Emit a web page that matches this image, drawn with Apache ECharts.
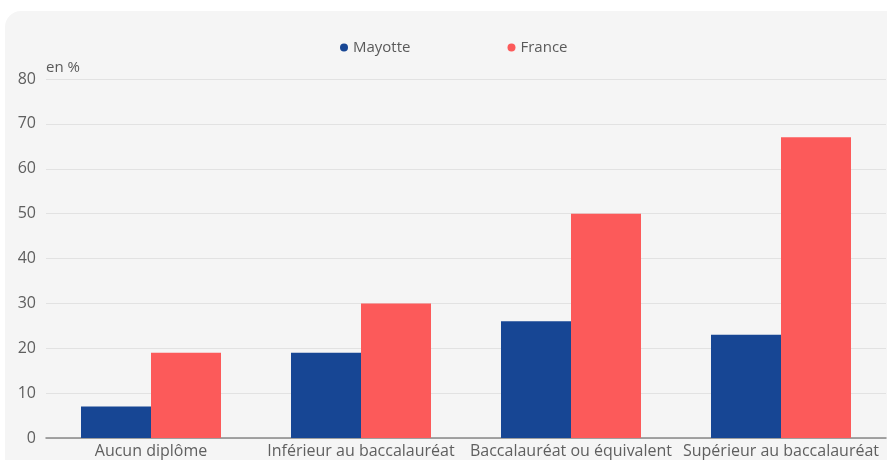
<!DOCTYPE html>
<html><head><meta charset="utf-8">
<script src="https://cdn.jsdelivr.net/npm/echarts@6/dist/echarts.min.js"></script>
<style>html,body{margin:0;padding:0;background:#fff}#c{width:887px;height:460px}</style>
</head><body><div id="c"></div>
<script>
const categories = ['Aucun diplôme', 'Inférieur au baccalauréat', 'Baccalauréat ou équivalent', 'Supérieur au baccalauréat'];
const mayotte = [7, 19, 26, 23];
const france = [19, 30, 50, 67];
const yTicks = [0, 10, 20, 30, 40, 50, 60, 70, 80];
const font = '"Open Sans", sans-serif';
const chart = echarts.init(document.getElementById('c'));
chart.setOption({
  animation: false,
  backgroundColor: '#fff',
  graphic: [{type: 'rect', silent: true, z: -10, shape: {x: 5, y: 11, width: 900, height: 470, r: [16, 0, 0, 0]}, style: {fill: '#f5f5f5'}}],
  legend: {
    top: 35, left: 335, icon: 'circle', itemWidth: 8, itemHeight: 8, itemGap: 97,
    textStyle: {fontFamily: font, fontSize: 15, color: '#5a5a5a'}
  },
  grid: {left: 46, right: 1, top: 79, bottom: 22, containLabel: false},
  xAxis: {
    type: 'category', data: categories,
    axisLine: {lineStyle: {color: '#888', width: 1.5}},
    axisTick: {show: false},
    axisLabel: {fontFamily: font, fontSize: 16, color: '#5f5f5f', margin: 5, interval: 0}
  },
  yAxis: {
    type: 'value', min: yTicks[0], max: yTicks[yTicks.length - 1], interval: 10,
    name: 'en %', nameLocation: 'end', nameGap: 4,
    nameTextStyle: {fontFamily: font, fontSize: 15, color: '#5a5a5a', align: 'left', padding: [0, 0, 0, 0]},
    axisLine: {show: false}, axisTick: {show: false},
    axisLabel: {fontFamily: font, fontSize: 16, color: '#5f5f5f', margin: 10},
    splitLine: {lineStyle: {color: '#e2e2e2'}}
  },
  series: [
    {name: 'Mayotte', type: 'bar', data: mayotte, itemStyle: {color: '#174694'}, barGap: '0%', barCategoryGap: '33.33%'},
    {name: 'France', type: 'bar', data: france, itemStyle: {color: '#fc5a5a'}}
  ]
});
</script></body></html>
